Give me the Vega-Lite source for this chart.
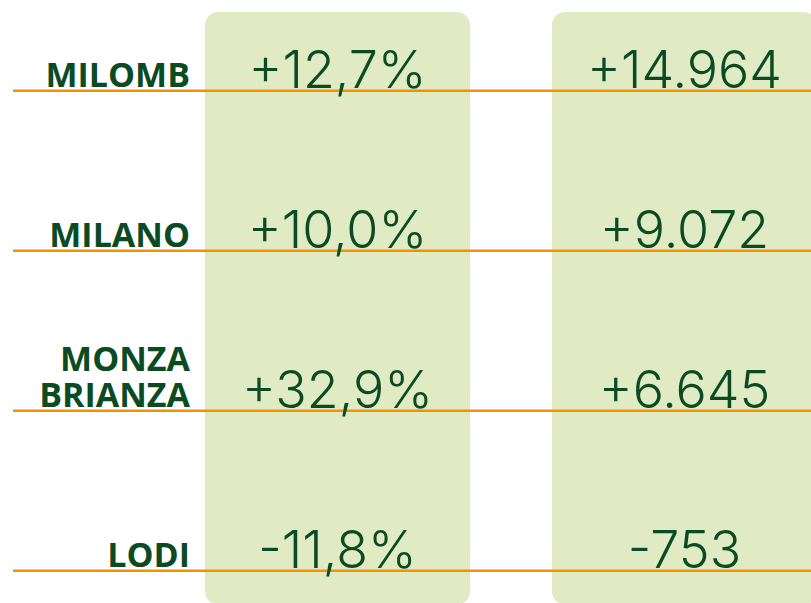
{
  "$schema": "https://vega.github.io/schema/vega-lite/v6.json",
  "width": 811,
  "height": 603,
  "padding": 0,
  "autosize": {"type": "none"},
  "background": "#ffffff",
  "config": {"view": {"stroke": null}},
  "data": {
    "values": [
      {"region": "MILOMB", "pct": "+12,7%", "abs": "+14.964"},
      {"region": "MILANO", "pct": "+10,0%", "abs": "+9.072"},
      {"region": "MONZA BRIANZA", "pct": "+32,9%", "abs": "+6.645"},
      {"region": "LODI", "pct": "-11,8%", "abs": "-753"}
    ]
  },
  "layer": [
    {
      "data": {"values": [{"col": "pct"}, {"col": "abs"}]},
      "mark": {"type": "rect", "color": "#e1ebc3", "cornerRadius": 13},
      "encoding": {
        "x": {"field": "col", "type": "nominal", "scale": {"type": "band", "domain": ["label", "pct", "abs"], "range": [-142, 817], "paddingInner": 0.2363, "paddingOuter": 0}, "axis": null},
        "y": {"datum": "MILOMB", "type": "nominal", "bandPosition": 0, "scale": {"type": "band", "domain": ["MILOMB", "MILANO", "MONZA BRIANZA", "LODI"], "range": [12, 652], "paddingInner": 0, "paddingOuter": 0}, "axis": null},
        "y2": {"datum": "LODI", "bandPosition": 0.703}
      }
    },
    {
      "mark": {"type": "rule", "color": "#f39200", "strokeWidth": 2.6},
      "encoding": {
        "x": {"datum": "label", "type": "nominal", "bandPosition": 0.585, "axis": null},
        "x2": {"datum": "abs", "bandPosition": 1},
        "y": {"field": "region", "type": "nominal", "bandPosition": 0.492, "axis": null}
      }
    },
    {
      "transform": [{"filter": "datum.region !== 'MONZA BRIANZA'"}],
      "mark": {"type": "text", "align": "right", "baseline": "alphabetic", "dx": 67, "dy": -4, "font": "Open Sans", "fontWeight": "bold", "fontSize": 34, "color": "#0a4b23"},
      "encoding": {
        "x": {"datum": "label", "type": "nominal", "bandPosition": 1, "axis": null},
        "y": {"field": "region", "type": "nominal", "bandPosition": 0.492, "axis": null},
        "text": {"field": "region"}
      }
    },
    {
      "transform": [{"filter": "datum.region === 'MONZA BRIANZA'"}],
      "mark": {"type": "text", "align": "right", "baseline": "alphabetic", "dx": 67, "dy": -40, "font": "Open Sans", "fontWeight": "bold", "fontSize": 34, "color": "#0a4b23", "lineBreak": " ", "lineHeight": 36},
      "encoding": {
        "x": {"datum": "label", "type": "nominal", "bandPosition": 1, "axis": null},
        "y": {"field": "region", "type": "nominal", "bandPosition": 0.492, "axis": null},
        "text": {"field": "region"}
      }
    },
    {
      "transform": [{"fold": ["pct", "abs"], "as": ["col", "val"]}],
      "mark": {"type": "text", "align": "center", "baseline": "alphabetic", "dy": -3, "font": "Inter", "fontWeight": 300, "fontSize": 52, "color": "#0a4b23"},
      "encoding": {
        "x": {"field": "col", "type": "nominal", "bandPosition": 0.5, "axis": null},
        "y": {"field": "region", "type": "nominal", "bandPosition": 0.492, "axis": null},
        "text": {"field": "val"}
      }
    }
  ]
}
